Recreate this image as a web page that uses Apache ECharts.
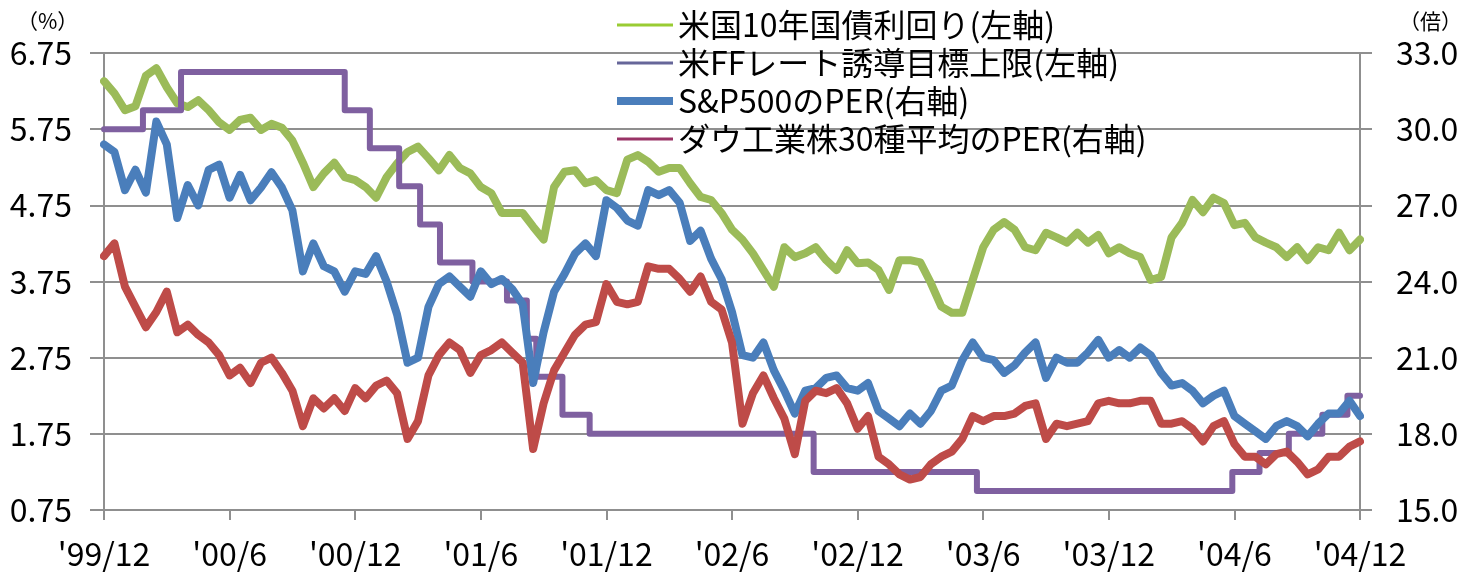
<!DOCTYPE html>
<html>
<head>
<meta charset="utf-8">
<title>米国金利とPER</title>
<script src="https://cdn.jsdelivr.net/npm/echarts@6/dist/echarts.min.js"></script>
</head>
<body style="margin:0;background:#fff">
<div id="main" style="width:1464px;height:573px;"></div>
<script>
// x軸ラベル（半年ごと）
var xLabels = ["'99/12", "'00/6", "'00/12", "'01/6", "'01/12", "'02/6", "'02/12", "'03/6", "'03/12", "'04/6", "'04/12"];
var stepMonths = 0.5; // 各データ点の間隔（月）

// 米国10年国債利回り（左軸, %）
var yield10 = [
  6.38, 6.22, 6.0, 6.05, 6.45, 6.55, 6.3, 6.09, 6.04, 6.13,
  6.0, 5.84, 5.74, 5.87, 5.9, 5.74, 5.82, 5.77, 5.6, 5.31,
  4.99, 5.17, 5.31, 5.12, 5.08, 4.99, 4.85, 5.12, 5.3, 5.45,
  5.52, 5.37, 5.21, 5.41, 5.24, 5.17, 4.99, 4.91, 4.65, 4.65,
  4.65, 4.47, 4.3, 4.99, 5.19, 5.21, 5.04, 5.08, 4.95, 4.91,
  5.35, 5.41, 5.32, 5.19, 5.24, 5.24, 5.04, 4.86, 4.82, 4.65,
  4.43, 4.3, 4.12, 3.9, 3.68, 4.2, 4.07, 4.12, 4.2, 4.03,
  3.9, 4.16, 3.99, 4.0, 3.9, 3.64, 4.03, 4.03, 4.0, 3.73,
  3.42, 3.34, 3.34, 3.77, 4.2, 4.43, 4.53, 4.43, 4.2, 4.16,
  4.39, 4.33, 4.26, 4.39, 4.26, 4.36, 4.12, 4.2, 4.12, 4.07,
  3.77, 3.81, 4.33, 4.52, 4.82, 4.66, 4.85, 4.78, 4.49, 4.52,
  4.33, 4.26, 4.2, 4.07, 4.2, 4.03, 4.2, 4.16, 4.39, 4.16, 4.3
];

// S&P500のPER（右軸, 倍）
var spPer = [
  29.4, 29.1, 27.6, 28.4, 27.5, 30.3, 29.4, 26.5, 27.8, 27.0,
  28.4, 28.6, 27.3, 28.2, 27.2, 27.7, 28.3, 27.7, 26.8, 24.4,
  25.5, 24.6, 24.4, 23.6, 24.4, 24.3, 25.0, 24.0, 22.7, 20.8,
  21.0, 23.0, 23.9, 24.2, 23.8, 23.4, 24.4, 23.9, 24.1, 23.7,
  23.1, 20.0, 22.0, 23.6, 24.3, 25.1, 25.5, 25.0, 27.2, 26.9,
  26.4, 26.2, 27.6, 27.4, 27.6, 27.1, 25.6, 26.0, 24.9, 24.1,
  22.8, 21.1, 21.0, 21.6, 20.5, 19.7, 18.8, 19.7, 19.8, 20.2,
  20.3, 19.8, 19.7, 20.0, 18.9, 18.6, 18.3, 18.8, 18.4, 18.9,
  19.7, 19.9, 20.9, 21.6, 21.0, 20.9, 20.4, 20.7, 21.2, 21.6,
  20.2, 21.0, 20.8, 20.8, 21.2, 21.7, 21.0, 21.3, 21.0, 21.4,
  21.1, 20.4, 19.9, 20.0, 19.7, 19.2, 19.5, 19.7, 18.7, 18.4,
  18.1, 17.8, 18.3, 18.5, 18.3, 17.9, 18.4, 18.8, 18.8, 19.3, 18.7
];

// ダウ工業株30種平均のPER（右軸, 倍）
var dowPer = [
  25.0, 25.5, 23.8, 23.0, 22.2, 22.8, 23.6, 22.0, 22.3, 21.9,
  21.6, 21.1, 20.3, 20.6, 20.0, 20.8, 21.0, 20.4, 19.7, 18.3,
  19.4, 19.0, 19.4, 18.9, 19.8, 19.4, 19.9, 20.1, 19.6, 17.8,
  18.5, 20.3, 21.1, 21.6, 21.3, 20.4, 21.1, 21.3, 21.6, 21.2,
  20.8, 17.4, 19.2, 20.5, 21.2, 21.9, 22.3, 22.4, 23.9, 23.2,
  23.1, 23.2, 24.6, 24.5, 24.5, 24.1, 23.6, 24.2, 23.2, 22.9,
  21.6, 18.4, 19.6, 20.3, 19.4, 18.6, 17.2, 19.3, 19.7, 19.6,
  19.8, 19.2, 18.2, 18.7, 17.1, 16.8, 16.4, 16.2, 16.3, 16.8,
  17.1, 17.3, 17.8, 18.7, 18.5, 18.7, 18.7, 18.8, 19.1, 19.2,
  17.8, 18.4, 18.3, 18.4, 18.5, 19.2, 19.3, 19.2, 19.2, 19.3,
  19.3, 18.4, 18.4, 18.5, 18.2, 17.7, 18.3, 18.5, 17.6, 17.1,
  17.1, 16.8, 17.2, 17.3, 16.9, 16.4, 16.6, 17.1, 17.1, 17.5, 17.7
];

// 米FFレート誘導目標上限（左軸, %）: 変更時点（'99/12からの月数）と水準
var ffMonths = [0, 1.86, 3.68, 11.5, 12.7, 14.1, 15.1, 16.05, 17.6, 19.25, 20.2, 20.65, 21.9, 23.2, 33.9, 41.7, 53.9, 55.2, 56.6, 58.2, 59.4, 60];
var ffRates  = [5.75, 6.0, 6.5, 6.0, 5.5, 5.0, 4.5, 4.0, 3.75, 3.5, 3.0, 2.5, 2.0, 1.75, 1.25, 1.0, 1.25, 1.5, 1.75, 2.0, 2.25, 2.25];

var names = ['米国10年国債利回り(左軸)', '米FFレート誘導目標上限(左軸)', 'S&P500のPER(右軸)', 'ダウ工業株30種平均のPER(右軸)'];

function toPairs(arr) {
  return arr.map(function (v, i) { return [i * stepMonths, v]; });
}
var ffData = ffMonths.map(function (m, i) { return [m, ffRates[i]]; });

var font = "'Noto Sans CJK JP', 'Noto Sans', sans-serif";
var gray = '#8f8f8f';

var dom = document.getElementById('main');
var myChart = echarts.init(dom);
var option = {
  animation: false,
  // 単位表示
  title: [
    { text: '（%）', left: 12, top: 6, textStyle: { fontFamily: font, fontSize: 21, fontWeight: 'normal', color: '#000' } },
    { text: '（倍）', left: 1394, top: 6, textStyle: { fontFamily: font, fontSize: 21, fontWeight: 'normal', color: '#000' } }
  ],
  grid: { left: 104, right: 104, top: 53, bottom: 63 },
  legend: {
    orient: 'vertical',
    left: 612,
    top: 4,
    itemWidth: 56,
    itemHeight: 8,
    itemGap: 6,
    textStyle: { fontFamily: font, fontSize: 32, color: '#000', lineHeight: 32 },
    data: [
      { name: names[0], icon: 'path://M0,0H56V3H0Z', itemStyle: { color: '#99cc33' } },
      { name: names[1], icon: 'path://M0,0H56V3H0Z', itemStyle: { color: '#666699' } },
      { name: names[2], icon: 'path://M0,0H56V8H0Z', itemStyle: { color: '#4a7ebb' } },
      { name: names[3], icon: 'path://M0,0H56V3H0Z', itemStyle: { color: '#993366' } }
    ]
  },
  xAxis: {
    type: 'value',
    min: 0,
    max: 60,
    interval: 6,
    axisLine: { lineStyle: { color: gray, width: 2 } },
    axisTick: { show: true, length: 10, lineStyle: { color: gray, width: 2 } },
    splitLine: { show: false },
    axisLabel: {
      margin: 28,
      fontFamily: font,
      fontSize: 32,
      color: '#000',
      formatter: function (v) { return xLabels[Math.round(v / 6)]; }
    }
  },
  yAxis: [
    {
      type: 'value',
      position: 'left',
      min: 0.75,
      max: 6.75,
      interval: 1,
      axisLine: { show: true, lineStyle: { color: gray, width: 2 } },
      axisTick: { show: true, length: 14, lineStyle: { color: gray, width: 2 } },
      splitLine: { lineStyle: { color: gray, width: 2 } },
      axisLabel: {
        margin: 32,
        fontFamily: font,
        fontSize: 32,
        color: '#000',
        formatter: function (v) { return v.toFixed(2); }
      }
    },
    {
      type: 'value',
      position: 'right',
      min: 15,
      max: 33,
      interval: 3,
      axisLine: { show: true, lineStyle: { color: gray, width: 2 } },
      axisTick: { show: true, length: 12, lineStyle: { color: gray, width: 2 } },
      splitLine: { show: false },
      axisLabel: {
        margin: 36,
        fontFamily: font,
        fontSize: 32,
        color: '#000',
        formatter: function (v) { return v.toFixed(1); }
      }
    }
  ],
  series: [
    {
      name: names[0],
      type: 'line',
      yAxisIndex: 0,
      data: toPairs(yield10),
      showSymbol: false,
      symbol: 'none',
      color: '#9bbb59',
      lineStyle: { width: 8, color: '#9bbb59', join: 'round', cap: 'round' }
    },
    {
      name: names[1],
      type: 'line',
      yAxisIndex: 0,
      step: 'end',
      data: ffData,
      showSymbol: false,
      symbol: 'none',
      color: '#7f60a0',
      lineStyle: { width: 6, color: '#7f60a0', join: 'round', cap: 'round' }
    },
    {
      name: names[2],
      type: 'line',
      yAxisIndex: 1,
      data: toPairs(spPer),
      showSymbol: false,
      symbol: 'none',
      color: '#4a7ebb',
      lineStyle: { width: 8, color: '#4a7ebb', join: 'round', cap: 'round' }
    },
    {
      name: names[3],
      type: 'line',
      yAxisIndex: 1,
      data: toPairs(dowPer),
      showSymbol: false,
      symbol: 'none',
      color: '#be4b48',
      lineStyle: { width: 8, color: '#be4b48', join: 'round', cap: 'round' }
    }
  ]
};
myChart.setOption(option);
</script>
</body>
</html>
